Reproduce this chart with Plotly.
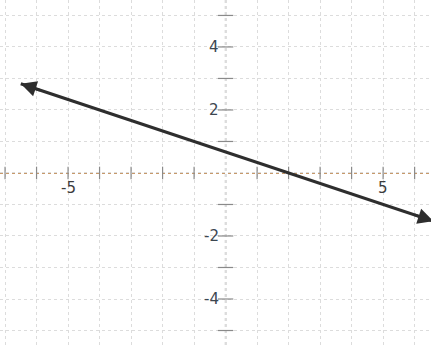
import plotly.graph_objects as go

# Data
line_x = [-6.5, 6.6]
line_y = [2.83, -1.53]
x_ticks = [-7, -6, -5, -4, -3, -2, -1, 1, 2, 3, 4, 5, 6]
y_ticks = [-5, -4, -3, -2, -1, 1, 2, 3, 4, 5]
x_label_vals = [-5, 5]
x_label_text = ["-5", "5"]
y_label_vals = [4, 2, -2, -4]
y_label_text = ["4", "2", "-2", "-4"]

XR = [-7.16, 6.52]
YR = [-5.46, 5.49]

fig = go.Figure()

# axis lines (dotted)
fig.add_shape(type="line", x0=XR[0], x1=XR[1], y0=0, y1=0, xref="x", yref="y",
              line=dict(color="#b5783a", width=1.6, dash="dot"), layer="below")
fig.add_shape(type="line", x0=0, x1=0, y0=YR[0], y1=YR[1], xref="x", yref="y",
              line=dict(color="#8a8a8a", width=1.4, dash="dot"), layer="below")

# tick crosses on axes
fig.add_trace(go.Scatter(x=x_ticks, y=[0] * len(x_ticks), mode="markers",
                         marker=dict(symbol="line-ns-open", size=9, color="#8a8a8a",
                                     line=dict(color="#8a8a8a", width=1.2)),
                         hoverinfo="skip", showlegend=False))
fig.add_trace(go.Scatter(x=[0] * len(y_ticks), y=y_ticks, mode="markers",
                         marker=dict(symbol="line-ew-open", size=11, color="#8a8a8a",
                                     line=dict(color="#8a8a8a", width=1.2)),
                         hoverinfo="skip", showlegend=False))

# the line
fig.add_trace(go.Scatter(x=line_x, y=line_y, mode="lines",
                         line=dict(color="#2e2e2e", width=3.2),
                         hoverinfo="skip", showlegend=False, cliponaxis=False))

# arrowheads
for i, j in [(0, 1), (1, 0)]:
    fig.add_annotation(x=line_x[i], y=line_y[i],
                       ax=line_x[i] + (line_x[j] - line_x[i]) * 0.05,
                       ay=line_y[i] + (line_y[j] - line_y[i]) * 0.05,
                       xref="x", yref="y", axref="x", ayref="y",
                       text="", showarrow=True, arrowhead=2, arrowsize=1.2,
                       arrowwidth=2.6, arrowcolor="#2e2e2e")

# tick labels
for v, t in zip(x_label_vals, x_label_text):
    fig.add_annotation(x=v, y=0, text=t, showarrow=False, xanchor="center",
                       yanchor="top", yshift=-4,
                       font=dict(family="DejaVu Sans", size=15, color="#3c3c3c"))
for v, t in zip(y_label_vals, y_label_text):
    fig.add_annotation(x=0, y=v, text=t, showarrow=False, xanchor="right",
                       yanchor="middle", xshift=-5,
                       font=dict(family="DejaVu Sans", size=15, color="#3c4650"))

fig.update_xaxes(range=XR, dtick=1, tick0=0, showgrid=True, gridcolor="#dcdcdc",
                 griddash="dot", gridwidth=1, zeroline=False, showticklabels=False,
                 ticks="", showline=False, fixedrange=True)
fig.update_yaxes(range=YR, dtick=1, tick0=0, showgrid=True, gridcolor="#dcdcdc",
                 griddash="dot", gridwidth=1, zeroline=False, showticklabels=False,
                 ticks="", showline=False, fixedrange=True)

fig.update_layout(width=431, height=345, margin=dict(l=0, r=0, t=0, b=0),
                  plot_bgcolor="white", paper_bgcolor="white")

fig.write_html("out.html", config={"displayModeBar": False},
               post_script="document.body.style.margin='0';document.body.style.overflow='hidden';")
